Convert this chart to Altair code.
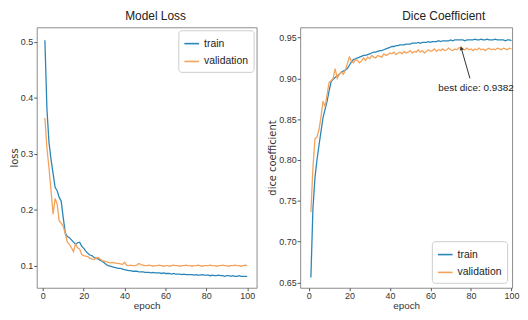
import altair as alt
import pandas as pd

epochs = list(range(1, 101))

train_loss = [0.503, 0.380, 0.320, 0.290, 0.265, 0.240, 0.234, 0.222, 0.215, 0.185,
              0.158, 0.152, 0.150, 0.146, 0.142, 0.138, 0.141, 0.142, 0.135, 0.131,
              0.126, 0.122, 0.119, 0.118, 0.115, 0.113, 0.112, 0.110, 0.108, 0.105,
              0.102, 0.100, 0.099, 0.098, 0.097, 0.096, 0.095, 0.095, 0.094, 0.093,
              0.092, 0.091, 0.091, 0.090, 0.090, 0.090, 0.089, 0.089, 0.089, 0.088,
              0.088, 0.088, 0.087, 0.088, 0.087, 0.087, 0.087, 0.086, 0.087, 0.086,
              0.086, 0.086, 0.085, 0.086, 0.085, 0.085, 0.085, 0.084, 0.085, 0.084,
              0.084, 0.084, 0.084, 0.083, 0.084, 0.083, 0.083, 0.084, 0.083, 0.083,
              0.083, 0.082, 0.083, 0.082, 0.082, 0.083, 0.082, 0.082, 0.081, 0.082,
              0.082, 0.081, 0.082, 0.081, 0.081, 0.082, 0.081, 0.081, 0.081, 0.081]

val_loss = [0.364, 0.310, 0.275, 0.235, 0.192, 0.220, 0.210, 0.180, 0.176, 0.170,
            0.157, 0.142, 0.138, 0.132, 0.125, 0.139, 0.132, 0.130, 0.120, 0.118,
            0.117, 0.116, 0.113, 0.112, 0.111, 0.113, 0.115, 0.112, 0.109, 0.108,
            0.107, 0.106, 0.105, 0.106, 0.105, 0.104, 0.104, 0.103, 0.102, 0.106,
            0.101, 0.100, 0.101, 0.100, 0.100, 0.101, 0.104, 0.102, 0.101, 0.100,
            0.100, 0.101, 0.100, 0.099, 0.100, 0.100, 0.101, 0.100, 0.099, 0.100,
            0.100, 0.099, 0.100, 0.101, 0.100, 0.100, 0.099, 0.100, 0.100, 0.101,
            0.100, 0.100, 0.099, 0.100, 0.100, 0.101, 0.100, 0.099, 0.100, 0.100,
            0.100, 0.101, 0.100, 0.100, 0.099, 0.100, 0.100, 0.101, 0.100, 0.100,
            0.099, 0.100, 0.100, 0.101, 0.100, 0.100, 0.099, 0.100, 0.101, 0.100]

train_dice = [0.656, 0.740, 0.778, 0.800, 0.818, 0.835, 0.852, 0.862, 0.872, 0.885,
              0.896, 0.899, 0.901, 0.903, 0.905, 0.907, 0.909, 0.910, 0.912, 0.916,
              0.920, 0.923, 0.924, 0.925, 0.926, 0.927, 0.928, 0.928, 0.929, 0.930,
              0.931, 0.932, 0.932, 0.933, 0.934, 0.934, 0.935, 0.936, 0.937, 0.938,
              0.939, 0.939, 0.940, 0.940, 0.941, 0.941, 0.941, 0.942, 0.942, 0.942,
              0.943, 0.943, 0.943, 0.944, 0.943, 0.944, 0.944, 0.944, 0.945, 0.944,
              0.945, 0.945, 0.945, 0.946, 0.945, 0.946, 0.946, 0.946, 0.946, 0.947,
              0.946, 0.947, 0.947, 0.947, 0.947, 0.947, 0.946, 0.947, 0.947, 0.947,
              0.947, 0.948, 0.947, 0.947, 0.948, 0.947, 0.947, 0.948, 0.947, 0.947,
              0.947, 0.948, 0.947, 0.947, 0.947, 0.947, 0.946, 0.947, 0.947, 0.946]

val_dice = [0.736, 0.790, 0.826, 0.828, 0.837, 0.853, 0.872, 0.865, 0.880, 0.895,
            0.897, 0.900, 0.912, 0.900, 0.905, 0.908, 0.905, 0.910, 0.918, 0.926,
            0.921, 0.919, 0.923, 0.922, 0.919, 0.921, 0.925, 0.922, 0.926, 0.924,
            0.928, 0.926, 0.925, 0.928, 0.927, 0.926, 0.930, 0.928, 0.929, 0.931,
            0.930, 0.932, 0.929, 0.931, 0.932, 0.930, 0.933, 0.931, 0.932, 0.934,
            0.931, 0.933, 0.932, 0.935, 0.932, 0.934, 0.931, 0.933, 0.935, 0.933,
            0.934, 0.936, 0.933, 0.935, 0.934, 0.936, 0.934, 0.935, 0.937, 0.935,
            0.934, 0.936, 0.935, 0.937, 0.9382, 0.936, 0.935, 0.937, 0.935, 0.936,
            0.934, 0.936, 0.935, 0.937, 0.935, 0.936, 0.934, 0.936, 0.937, 0.935,
            0.936, 0.935, 0.937, 0.936, 0.935, 0.937, 0.936, 0.935, 0.937, 0.936]

series_names = ["train", "validation"]
colors = ["#2a86b8", "#f5a25a"]

best_val = max(val_dice)
best_epoch = epochs[val_dice.index(best_val)]
note_text = [f"best dice: {best_val:.4f}"]
note_pos = [82.5, 0.8885]      # text anchor (epoch, value)
arrow_tail = [79.5, 0.9000]    # arrow tail (epoch, value)
arrow_head = [75.3, 0.9362]    # arrow head near the best point

HFONT = "Liberation Sans"
VFONT = "DejaVu Sans"

loss_df = pd.DataFrame({
    "epoch": epochs * 2,
    "value": train_loss + val_loss,
    "series": [series_names[0]] * 100 + [series_names[1]] * 100,
})
dice_df = pd.DataFrame({
    "epoch": epochs * 2,
    "value": train_dice + val_dice,
    "series": [series_names[0]] * 100 + [series_names[1]] * 100,
})

color_scale = alt.Scale(domain=series_names, range=colors)


def legend(orient, offset):
    return alt.Legend(orient=orient, title=None, symbolType="stroke", symbolSize=220,
                      symbolStrokeWidth=1.6, labelFont=HFONT, labelFontSize=10.5,
                      labelColor="#222", fillColor="white", strokeColor="#cccccc",
                      padding=5, cornerRadius=3, offset=offset, rowPadding=4)


x_axis = alt.Axis(values=[0, 20, 40, 60, 80, 100], title="epoch", titleFont=HFONT,
                  titleFontSize=10, titlePadding=0, labelFlush=False)

loss_chart = alt.Chart(loss_df).mark_line(strokeWidth=1.3).encode(
    x=alt.X("epoch:Q", scale=alt.Scale(domain=[-3.0, 104.6], nice=False, zero=False), axis=x_axis),
    y=alt.Y("value:Q", scale=alt.Scale(domain=[0.0605, 0.526], nice=False, zero=False),
            axis=alt.Axis(values=[0.1, 0.2, 0.3, 0.4, 0.5], format=".1f", title="loss")),
    color=alt.Color("series:N", scale=color_scale, legend=legend("top-right", 3)),
).properties(width=222, height=263,
             title=alt.TitleParams("Model Loss", dx=9))

dice_lines = alt.Chart(dice_df).mark_line(strokeWidth=1.3).encode(
    x=alt.X("epoch:Q", scale=alt.Scale(domain=[-4.3, 100.3], nice=False, zero=False), axis=x_axis),
    y=alt.Y("value:Q", scale=alt.Scale(domain=[0.6435, 0.9625], nice=False, zero=False),
            axis=alt.Axis(values=[0.65, 0.70, 0.75, 0.80, 0.85, 0.90, 0.95], format=".2f",
                          title="dice coefficient")),
    color=alt.Color("series:N", scale=color_scale, legend=legend("bottom-right", 5)),
)

note_df = pd.DataFrame({"epoch": [note_pos[0]], "value": [note_pos[1]], "label": note_text})
arrow_df = pd.DataFrame({"epoch": [arrow_tail[0]], "value": [arrow_tail[1]],
                         "epoch2": [arrow_head[0]], "value2": [arrow_head[1]]})
head_df = pd.DataFrame({"epoch": [arrow_head[0]], "value": [arrow_head[1]]})

note = alt.Chart(note_df).mark_text(font=HFONT, fontSize=10, color="#222").encode(
    x="epoch:Q", y="value:Q", text="label:N")
arrow = alt.Chart(arrow_df).mark_rule(color="#333", strokeWidth=1).encode(
    x="epoch:Q", y="value:Q", x2="epoch2:Q", y2="value2:Q")
head = alt.Chart(head_df).mark_point(shape="triangle", filled=True, color="#333", size=18,
                                     angle=345, opacity=1).encode(x="epoch:Q", y="value:Q")

dice_chart = alt.layer(dice_lines, arrow, head, note).properties(
    width=214, height=263, title=alt.TitleParams("Dice Coefficient", dx=38))

chart = alt.hconcat(loss_chart, dice_chart, spacing=9).resolve_scale(
    color="independent").resolve_legend(color="independent").properties(
    padding={"left": 0, "top": 0, "right": 0, "bottom": 0}
).configure_view(stroke="#8c8c8c", strokeWidth=1).configure_axis(
    domain=False, grid=False, tickColor="#555", tickSize=3, labelPadding=1,
    labelFont=HFONT, labelFontSize=9, labelColor="#333", titlePadding=1,
    titleFont=VFONT, titleFontSize=10, titleFontWeight="normal", titleColor="#333"
).configure_title(font=HFONT, fontSize=12, fontWeight="normal", color="#222", offset=0)

chart.save("out.html", embed_options={"renderer": "svg", "actions": False})
